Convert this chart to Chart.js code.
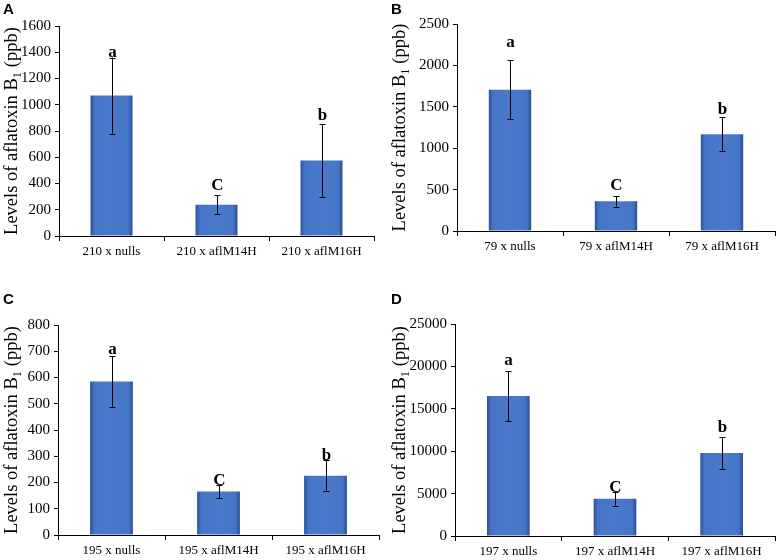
<!DOCTYPE html>
<html>
<head>
<meta charset="utf-8">
<script src="https://cdn.jsdelivr.net/npm/chart.js@4"></script>
<style>
  body { margin: 0; background: #fff; }
  #wrap { position: relative; width: 776px; height: 560px; }
  .panel { position: absolute; }
  .tag { position: absolute; font-family: "Liberation Sans", Arial, sans-serif; font-weight: bold; font-size: 15px; color: #000; }
</style>
</head>
<body>
<div id="wrap">
  <div class="panel" style="left:0;top:0;width:388px;height:270px"><canvas id="chartA"></canvas></div>
  <div class="panel" style="left:388px;top:0;width:388px;height:270px"><canvas id="chartB"></canvas></div>
  <div class="panel" style="left:0;top:280px;width:388px;height:280px"><canvas id="chartC"></canvas></div>
  <div class="panel" style="left:388px;top:280px;width:388px;height:280px"><canvas id="chartD"></canvas></div>
  <div class="tag" style="left:3px;top:0px">A</div>
  <div class="tag" style="left:391px;top:0px">B</div>
  <div class="tag" style="left:3px;top:290px">C</div>
  <div class="tag" style="left:391px;top:290px">D</div>
</div>
<script>
// values (ppb), mean and error bar half-length
const labelsA = ['210 x nulls', '210 x aflM14H', '210 x aflM16H'];
const meansA = [1070, 238, 576];
const errorsA = [290, 71, 276];
const lettersA = ['a', 'C', 'b'];

const labelsB = ['79 x nulls', '79 x aflM14H', '79 x aflM16H'];
const meansB = [1705, 358, 1168];
const errorsB = [358, 63, 207];
const lettersB = ['a', 'C', 'b'];

const labelsC = ['195 x nulls', '195 x aflM14H', '195 x aflM16H'];
const meansC = [585, 166, 226];
const errorsC = [97, 25, 58];
const lettersC = ['a', 'C', 'b'];

const labelsD = ['197 x nulls', '197 x aflM14H', '197 x aflM16H'];
const meansD = [16500, 4400, 9780];
const errorsD = [2970, 830, 1850];
const lettersD = ['a', 'C', 'b'];

const yMaxA = 1600, yStepA = 200;
const yMaxB = 2500, yStepB = 500;
const yMaxC = 800, yStepC = 100;
const yMaxD = 25000, yStepD = 5000;

const serif = '"Liberation Serif", "Times New Roman", serif';

// bar fill a bit darker at the edges, like the Excel bevel
function barFill(c) {
  const chart = c.chart;
  const xs = chart.scales.x;
  if (!xs || !chart.chartArea || c.dataIndex === undefined) return '#4472c4';
  const cx = xs.getPixelForValue(c.dataIndex);
  const half = xs.width / chart.data.labels.length * 0.4 / 2;
  if (!isFinite(cx) || !isFinite(half) || half <= 0) return '#4472c4';
  const g = chart.ctx.createLinearGradient(cx - half, 0, cx + half, 0);
  g.addColorStop(0, '#2c5396');
  g.addColorStop(0.1, '#4674c6');
  g.addColorStop(0.5, '#4a78ca');
  g.addColorStop(0.9, '#4674c6');
  g.addColorStop(1, '#2a4f90');
  return g;
}

// error bars and significance letters
const errorBars = {
  id: 'errorBars',
  afterDatasetsDraw(chart, args, opts) {
    const ctx = chart.ctx;
    const y = chart.scales.y;
    const means = chart.data.datasets[0].data;
    ctx.save();
    ctx.strokeStyle = '#000';
    ctx.lineWidth = 1;
    chart.getDatasetMeta(0).data.forEach((bar, i) => {
      const top = y.getPixelForValue(means[i] + opts.errors[i]);
      const bot = y.getPixelForValue(means[i] - opts.errors[i]);
      const x = Math.round(bar.x) + 0.5;
      ctx.beginPath();
      ctx.moveTo(x, top); ctx.lineTo(x, bot);
      ctx.moveTo(x - 3, Math.round(top) + 0.5); ctx.lineTo(x + 3, Math.round(top) + 0.5);
      ctx.moveTo(x - 3, Math.round(bot) + 0.5); ctx.lineTo(x + 3, Math.round(bot) + 0.5);
      ctx.stroke();
      ctx.fillStyle = '#000';
      ctx.font = 'bold 17px ' + serif;
      ctx.textAlign = 'center';
      ctx.textBaseline = 'alphabetic';
      ctx.fillText(opts.letters[i], x, top - opts.gaps[i]);
    });
    ctx.restore();
  }
};

function makeChart(id, labels, means, errors, letters, yMax, yStep, box) {
  new Chart(document.getElementById(id), {
    type: 'bar',
    data: {
      labels: labels,
      datasets: [{
        data: means,
        backgroundColor: barFill,
        barPercentage: 0.4,
        categoryPercentage: 1.0
      }]
    },
    options: {
      responsive: true,
      maintainAspectRatio: false,
      animation: false,
      layout: { padding: { left: 0, top: box.top, right: box.right, bottom: 0 } },
      plugins: {
        legend: { display: false },
        tooltip: { enabled: false },
        errorBars: { errors: errors, letters: letters, gaps: box.gaps }
      },
      scales: {
        x: {
          afterFit(scale) { scale.height = box.xh; },
          grid: { display: true, drawOnChartArea: false, offset: true, color: '#000', tickLength: 5 },
          border: { display: true, color: '#000', width: 1 },
          ticks: { color: '#000', font: { family: serif, size: 13 }, padding: 3, maxRotation: 0 }
        },
        y: {
          min: 0,
          max: yMax,
          afterFit(scale) { scale.width = box.yw; },
          grid: { display: true, drawOnChartArea: false, color: '#000', tickLength: 4 },
          border: { display: true, color: '#000', width: 1 },
          ticks: {
            stepSize: yStep, color: '#000', font: { family: serif, size: 15 }, padding: 4,
            callback: v => String(v)
          },
          title: {
            display: true,
            text: 'Levels of aflatoxin B\u2081 (ppb)',
            color: '#000',
            font: { family: serif, size: 18.5 },
            padding: { top: 1, bottom: 1 }
          }
        }
      }
    },
    plugins: [errorBars]
  });
}

makeChart('chartA', labelsA, meansA, errorsA, lettersA, yMaxA, yStepA, { top: 26, right: 14, xh: 34, yw: 59, gaps: [1, 5, 4] });
makeChart('chartB', labelsB, meansB, errorsB, lettersB, yMaxB, yStepB, { top: 24, right: 1, xh: 39, yw: 69, gaps: [13, 6, 3] });
makeChart('chartC', labelsC, meansC, errorsC, lettersC, yMaxC, yStepC, { top: 45, right: 9, xh: 25, yw: 58, gaps: [2, 0, 0] });
makeChart('chartD', labelsD, meansD, errorsD, lettersD, yMaxD, yStepD, { top: 44, right: 1, xh: 24, yw: 67, gaps: [6, 0, 5] });
</script>
</body>
</html>
